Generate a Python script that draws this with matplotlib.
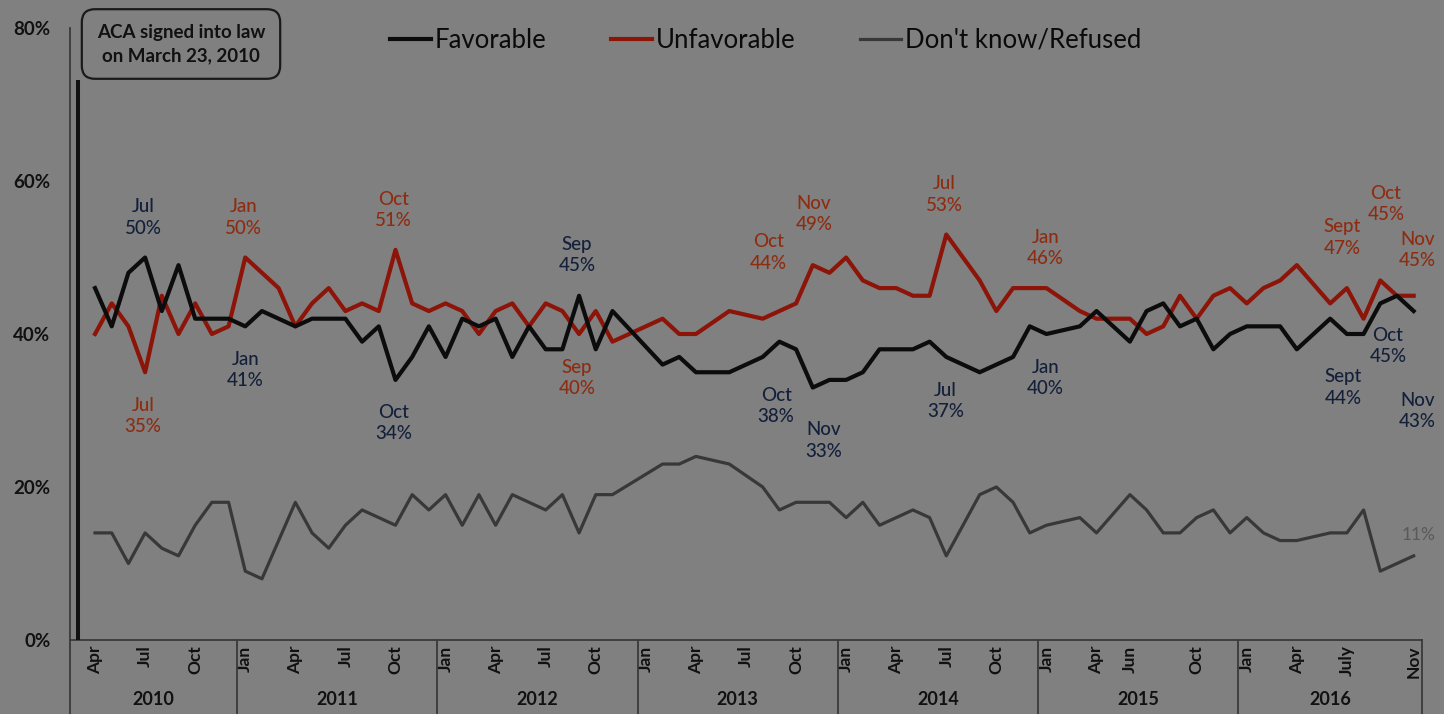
import numpy as np
import pandas as pd
import matplotlib
matplotlib.use("Agg")
import matplotlib.pyplot as plt
import matplotlib.transforms as mtransforms
from matplotlib.lines import Line2D

plt.rcParams['font.family'] = ['Lato', 'DejaVu Sans']

# one category per month, Mar 2010 .. Nov 2016 (None = no poll that month)
months = pd.period_range('2010-03', '2016-11', freq='M')

favorable = [
    None, 46, 41, 48, 50, 43, 49, 42, 42, 42,                 # 2010 Mar-Dec
    41, 43, 42, 41, 42, 42, 42, 39, 41, 34, 37, 41,           # 2011
    37, 42, 41, 42, 37, 41, 38, 38, 45, 38, 43, None,         # 2012
    None, 36, 37, 35, None, 35, None, 37, 39, 38, 33, 34,     # 2013
    34, 35, 38, 38, 38, 39, 37, None, 35, 36, 37, 41,         # 2014
    40, None, 41, 43, None, 39, 43, 44, 41, 42, 38, 40,       # 2015
    41, 41, 41, 38, None, 42, 40, 40, 44, 45, 43,             # 2016 Jan-Nov
]
unfavorable = [
    None, 40, 44, 41, 35, 45, 40, 44, 40, 41,
    50, 48, 46, 41, 44, 46, 43, 44, 43, 51, 44, 43,
    44, 43, 40, 43, 44, 41, 44, 43, 40, 43, 39, None,
    None, 42, 40, 40, None, 43, None, 42, None, 44, 49, 48,
    50, 47, 46, 46, 45, 45, 53, None, 47, 43, 46, None,
    46, None, 43, 42, None, 42, 40, 41, 45, 42, 45, 46,
    44, 46, 47, 49, None, 44, 46, 42, 47, 45, 45,
]
dont_know = [
    None, 14, 14, 10, 14, 12, 11, 15, 18, 18,
    9, 8, None, 18, 14, 12, 15, 17, None, 15, 19, 17,
    19, 15, 19, 15, 19, None, 17, 19, 14, 19, 19, None,
    None, 23, 23, 24, None, 23, None, 20, 17, 18, None, 18,
    16, 18, 15, None, 17, 16, 11, None, 19, 20, 18, 14,
    15, None, 16, 14, None, 19, 17, 14, 14, 16, 17, 14,
    16, 14, 13, 13, None, 14, 14, 17, 9, None, 11,
]

tick_pos = [1, 4, 7, 10, 13, 16, 19, 22, 25, 28, 31, 34, 37, 40, 43,
            46, 49, 52, 55, 58, 61, 63, 67, 70, 73, 76, 80]
tick_labels = ['Apr', 'Jul', 'Oct', 'Jan', 'Apr', 'Jul', 'Oct', 'Jan', 'Apr', 'Jul', 'Oct',
               'Jan', 'Apr', 'Jul', 'Oct', 'Jan', 'Apr', 'Jul', 'Oct', 'Jan', 'Apr', 'Jun', 'Oct',
               'Jan', 'Apr', 'July', 'Nov']
years = [2010, 2011, 2012, 2013, 2014, 2015, 2016]

# callouts: (month index, month name, dx px, dy px)
fav_notes = [(4, 'Jul', -2, 40), (10, 'Jan', 0, -44), (19, 'Oct', -2, -43),
             (30, 'Sep', -2, 41), (43, 'Oct', -20, -57), (44, 'Nov', 11, -53),
             (52, 'Jul', -1, -44), (58, 'Jan', -1, -44), (78, 'Sept', -37, -84),
             (79, 'Oct', -9, -50), (80, 'Nov', 4, -100)]
unf_notes = [(4, 'Jul', -2, -44), (10, 'Jan', -2, 40), (19, 'Oct', -2, 40),
             (30, 'Sep', -2, -44), (43, 'Oct', -28, 51), (44, 'Nov', 1, 51),
             (52, 'Jul', -2, 40), (58, 'Jan', -1, 40), (78, 'Sept', -38, 43),
             (79, 'Oct', -11, 92), (80, 'Nov', 4, 46)]

BG = '#808080'
C_FAV = '#0c0c0c'
C_UNF = '#8c1408'
C_DK = '#383838'
T_FAV = '#14203a'
T_UNF = '#8e2c12'
AXC = '#3a3a3a'

fig = plt.figure(figsize=(14.44, 7.14), dpi=100, facecolor=BG)
ax = fig.add_axes([70 / 1444, 74 / 714, 1352 / 1444, 612 / 714])
ax.set_facecolor(BG)

x = np.arange(len(months))


def draw(vals, color, lw, label):
    v = np.array([np.nan if a is None else a for a in vals], dtype=float)
    ok = ~np.isnan(v)
    ax.plot(x[ok], v[ok], color=color, lw=lw, label=label, zorder=3)
    return v


dk = draw(dont_know, C_DK, 2.3, "Don't know/Refused")
unf = draw(unfavorable, C_UNF, 3.0, 'Unfavorable')
fav = draw(favorable, C_FAV, 3.0, 'Favorable')

# ACA signing line (March 2010 category)
ax.plot([0, 0], [0, 73.2], color='#111111', lw=2.9, solid_capstyle='butt', zorder=4)

for i, m, dx, dy in fav_notes:
    ax.annotate(f'{m}\n{int(fav[i])}%', (i, fav[i]), xytext=(dx, dy), textcoords='offset pixels',
                ha='center', va='center', fontsize=13.5, fontweight='medium', color=T_FAV,
                linespacing=1.3, annotation_clip=False)
for i, m, dx, dy in unf_notes:
    ax.annotate(f'{m}\n{int(unf[i])}%', (i, unf[i]), xytext=(dx, dy), textcoords='offset pixels',
                ha='center', va='center', fontsize=13.5, fontweight='medium', color=T_UNF,
                linespacing=1.3, annotation_clip=False)
ax.annotate(f'{int(dk[80])}%', (80, dk[80]), xytext=(5, 21), textcoords='offset pixels',
            ha='center', va='center', fontsize=12.5, color='#5a5a5a', annotation_clip=False)

ax.set_xlim(-0.5, 80.5)
ax.set_ylim(0, 80)
ax.set_yticks([0, 20, 40, 60, 80])
ax.set_yticklabels([f'{v}%' for v in [0, 20, 40, 60, 80]], fontsize=13.5, fontweight='bold',
                   color='#111111')
ax.set_xticks(tick_pos)
ax.set_xticklabels(tick_labels, rotation=90, fontsize=12.5, fontweight='bold', color='#111111')
ax.tick_params(axis='y', length=0, pad=14)
ax.tick_params(axis='x', length=0, pad=4)

for s in ['top', 'right']:
    ax.spines[s].set_visible(False)
for s in ['left', 'bottom']:
    ax.spines[s].set_color(AXC)
    ax.spines[s].set_linewidth(1.3)

# year group separators and labels below the axis
trans = mtransforms.blended_transform_factory(ax.transData, ax.transAxes)
bounds = [-0.5]
for y in years:
    bounds.append(bounds[-1] + sum(1 for p in months if p.year == y))
for b in bounds:
    ax.add_line(Line2D([b, b], [0, -0.125], transform=trans, color=AXC, lw=1.3, clip_on=False))
for y, a, b in zip(years, bounds[:-1], bounds[1:]):
    ax.text((a + b) / 2, -0.098, str(y), transform=trans, ha='center', va='center',
            fontsize=13, fontweight='bold', color='#111111')

fig.text(181 / 1444, 1 - 44 / 714, 'ACA signed into law\non March 23, 2010', ha='center', va='center',
         fontsize=13.5, fontweight='bold', color='#111111', linespacing=1.4,
         bbox=dict(boxstyle='round,pad=0.8,rounding_size=0.7', fc=BG, ec='#1a1a1a', lw=1.6))

fig.legend(loc='center left', bbox_to_anchor=(390 / 1444, 1 - 40 / 714), ncol=3, frameon=False,
           fontsize=18.5, handlelength=1.6, handletextpad=0.15, columnspacing=2.5,
           borderpad=0, borderaxespad=0, labelcolor='#0a0a0a',
           handles=[ax.lines[2], ax.lines[1], ax.lines[0]])

fig.savefig('out.png', dpi=100, facecolor=BG)
